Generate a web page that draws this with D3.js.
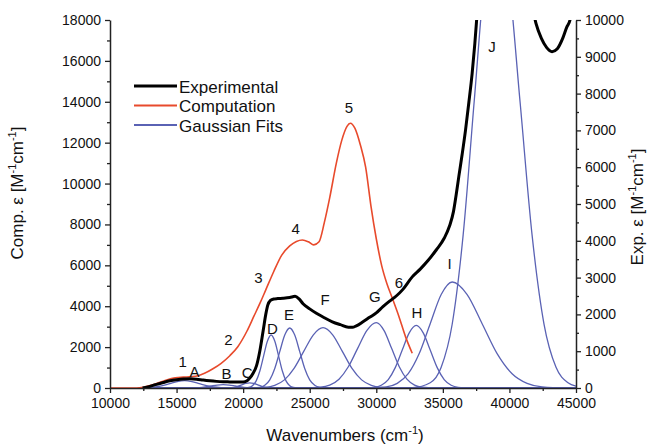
<!DOCTYPE html>
<html><head><meta charset="utf-8">
<script src="https://cdn.jsdelivr.net/npm/d3@7"></script>
<style>
body{margin:0;background:#fff}
text{font-family:"Liberation Sans",Arial,Helvetica,sans-serif;fill:#111}
</style>
</head><body>
<svg id="c" width="651" height="447"></svg>
<script>
// ---------------- data ----------------
const xTicks = [10000,15000,20000,25000,30000,35000,40000,45000];
const xMinorTicks = [12500,17500,22500,27500,32500,37500,42500];
const leftTicks = [0,2000,4000,6000,8000,10000,12000,14000,16000,18000];
const leftMinorTicks = [1000,3000,5000,7000,9000,11000,13000,15000,17000];
const rightTicks = [0,1000,2000,3000,4000,5000,6000,7000,8000,9000,10000];
const rightMinorTicks = [500,1500,2500,3500,4500,5500,6500,7500,8500,9500];

// Experimental spectrum (right axis); null = off the top of the chart
const expWn = [12450,13000,13500,14000,14500,15000,15500,16000,16500,17000,17500,18000,18500,19000,19500,20000,20300,20500,20750,21000,21250,21500,21700,21850,22050,22300,22600,23000,23500,23900,24200,24500,25000,25500,26000,26700,27300,27900,28200,28500,29000,29500,30000,30500,31000,31500,32000,32700,33300,33900,34500,35100,35500,35800,36000,36200,36450,36700,36950,37200,37400,37600,39500,41750,42000,42400,42800,43200,43600,44000,44300,44550,44700];
const expVal = [0,45,100,150,195,225,245,250,240,215,195,180,170,165,160,165,200,270,400,600,1000,1550,2000,2250,2380,2420,2430,2440,2460,2490,2420,2290,2150,2030,1930,1800,1720,1650,1650,1690,1800,1920,2040,2210,2360,2500,2680,3020,3230,3470,3750,4070,4400,4800,5250,5750,6350,7000,7750,8550,9350,10300,null,10300,9900,9500,9250,9140,9220,9500,9800,10000,10400];

// Computed spectrum (left axis)
const compWn = [10000,11000,12000,12500,13000,13500,14000,14600,15500,16100,16600,17100,17700,18350,19000,19600,20300,20800,21300,21700,22300,22900,23500,24000,24450,24900,25300,25700,26100,26500,27000,27400,27800,28050,28400,28800,29200,29600,30000,30400,30800,31200,31700,32200,32700];
const compVal = [0,0,0,40,120,220,330,460,530,555,600,720,930,1210,1580,2020,2800,3500,4200,4800,5700,6500,6950,7170,7240,7150,7000,7150,8100,9300,11000,12100,12800,12950,12700,11900,10800,8900,7300,6000,5100,4400,3500,2500,1700];

const gaussNames = ["A","B","C","D","E","F","G","H","I","J"];
const gaussWn = [
  [12500,13400,13950,14500,15050,15600,16150,16700,17250,17800,18350,18900,45000],
  [12500,15800,16700,17150,17600,18050,18500,18950,19400,19850,20300,21200,45000],
  [12500,18700,19300,19600,19900,20200,20500,20800,21100,21400,21700,22300,45000],
  [12500,19970,20420,20700,20980,21260,21540,21820,22100,22380,22660,22940,23220,23500,23780,24230,45000],
  [12500,20650,21250,21625,22000,22375,22750,23125,23500,23875,24250,24625,25000,25375,25750,26350,45000],
  [12500,20490,21650,22375,23100,23825,24550,25275,26000,26725,27450,28175,28900,29625,30350,31510,45000],
  [12500,24680,25800,26500,27200,27900,28600,29300,30000,30575,31150,31725,32300,32875,33450,34370,45000],
  [12500,29010,29850,30375,30900,31425,31950,32475,33000,33525,34050,34575,35100,35625,36150,36990,45000],
  [12500,29430,30750,31575,32400,33225,34050,34875,35700,36825,37950,39075,40200,41325,42450,44250,45000],
  [12500,31575,32730,34050,34875,35700,36525,37350,38175,39000,39900,40800,41700,42600,43500,44400,45000]
];
const gaussVal = [
  [0,27,65,121,176,200,176,121,65,27,9,2,0],
  [0,1,12,29,55,79,90,79,55,29,12,1,0],
  [0,1,19,45,85,123,140,123,85,45,19,1,0],
  [0,1,16,63,194,468,874,1270,1440,1270,874,468,194,63,16,1,0],
  [0,1,18,72,220,530,989,1438,1630,1438,989,530,220,72,18,1,0],
  [0,1,18,72,221,533,995,1446,1640,1446,995,533,221,72,18,1,0],
  [0,1,20,78,240,577,1077,1566,1775,1566,1077,577,240,78,20,1,0],
  [0,1,19,75,230,553,1032,1499,1700,1499,1032,553,230,75,19,1,0],
  [0,2,32,127,389,936,1748,2540,2880,2540,1748,936,389,127,32,2,0],
  [0,1,10,142,563,1732,4160,7770,11290,12800,11290,7770,4160,1732,563,142,50]
];

// Peak annotations (position in wavenumber / right-axis units)
const annText = ["1","A","B","C","2","3","4","5","6","D","E","F","G","H","I","J"];
const annWn  = [15450,16350,18750,20300,18900,21150,23950,27950,31700,22200,23450,26150,29900,33050,35500,38700];
const annVal = [720,460,400,430,1330,3000,4330,7620,2880,1630,1990,2400,2480,2040,3380,9280];

const legendNames = ["Experimental","Computation","Gaussian Fits"];
const colors = {exp:"#000000", comp:"#e84a2c", gauss:"#5a62b4"};

// ---------------- chart ----------------
const svg = d3.select("#c");
const X0=110, X1=576, Y0=388, Y1=20;
const x = d3.scaleLinear().domain([10000,45000]).range([X0,X1]);
const yL = d3.scaleLinear().domain([0,18000]).range([Y0,Y1]);
const yR = d3.scaleLinear().domain([0,10000]).range([Y0,Y1]);

svg.append("defs").append("clipPath").attr("id","clip")
  .append("rect").attr("x",X0).attr("y",Y1).attr("width",X1-X0).attr("height",Y0-Y1+4);

const plot = svg.append("g").attr("clip-path","url(#clip)");

gaussWn.forEach((wns,i)=>{
  const pts = wns.map((w,j)=>[w,gaussVal[i][j]]);
  plot.append("path")
    .attr("d", d3.line().x(d=>x(d[0])).y(d=>yR(d[1])).curve(d3.curveMonotoneX)(pts))
    .attr("fill","none").attr("stroke",colors.gauss).attr("stroke-width",1.3);
});

const compPts = compWn.map((w,i)=>[w,compVal[i]]);
plot.append("path")
  .attr("d", d3.line().x(d=>x(d[0])).y(d=>yL(d[1])).curve(d3.curveMonotoneX)(compPts))
  .attr("fill","none").attr("stroke",colors.comp).attr("stroke-width",1.6);

const expPts = expWn.map((w,i)=>[w,expVal[i]]);
plot.append("path")
  .attr("d", d3.line().defined(d=>d[1]!==null).x(d=>x(d[0])).y(d=>yR(d[1])).curve(d3.curveMonotoneX)(expPts))
  .attr("fill","none").attr("stroke",colors.exp).attr("stroke-width",3).attr("stroke-linejoin","round");

// axes
function styleAxis(g){
  g.selectAll("path.domain").attr("stroke","#222").attr("stroke-width",1.5);
  g.selectAll(".tick line").attr("stroke","#222").attr("stroke-width",1.3);
  g.selectAll("text").style("font-size","14px").attr("fill","#111");
}
const gx = svg.append("g").attr("transform",`translate(0,${Y0})`)
  .call(d3.axisBottom(x).tickValues(xTicks).tickFormat(d3.format("d")).tickSize(5).tickSizeOuter(0).tickPadding(5));
styleAxis(gx);
const gxm = svg.append("g").attr("transform",`translate(0,${Y0})`)
  .call(d3.axisBottom(x).tickValues(xMinorTicks).tickFormat("").tickSize(3).tickSizeOuter(0));
styleAxis(gxm); gxm.select("path.domain").remove();

const gl = svg.append("g").attr("transform",`translate(${X0},0)`)
  .call(d3.axisLeft(yL).tickValues(leftTicks).tickFormat(d3.format("d")).tickSize(5).tickSizeOuter(0).tickPadding(4));
styleAxis(gl);
const glm = svg.append("g").attr("transform",`translate(${X0},0)`)
  .call(d3.axisLeft(yL).tickValues(leftMinorTicks).tickFormat("").tickSize(3).tickSizeOuter(0));
styleAxis(glm); glm.select("path.domain").remove();

const gr = svg.append("g").attr("transform",`translate(${X1},0)`)
  .call(d3.axisRight(yR).tickValues(rightTicks).tickFormat(d3.format("d")).tickSize(5).tickSizeOuter(0).tickPadding(4));
styleAxis(gr);
const grm = svg.append("g").attr("transform",`translate(${X1},0)`)
  .call(d3.axisRight(yR).tickValues(rightMinorTicks).tickFormat("").tickSize(3).tickSizeOuter(0));
styleAxis(grm); grm.select("path.domain").remove();

// axis titles
function supTitle(t, parts){
  parts.forEach(p=>{
    const s = t.append("tspan").text(p[0]);
    if(p[1]==="sup") s.attr("dy",-7).style("font-size","11px");
    if(p[1]==="back") s.attr("dy",7);
  });
}
const tb = svg.append("text").attr("x",(X0+X1)/2+2).attr("y",441).attr("text-anchor","middle").style("font-size","17px");
supTitle(tb,[["Wavenumbers (cm"],["-1","sup"],[")","back"]]);

const tl = svg.append("text").attr("transform",`translate(23,193) rotate(-90)`).attr("text-anchor","middle").style("font-size","17px");
supTitle(tl,[["Comp. ε [M"],["-1","sup"],["cm","back"],["-1","sup"],["]","back"]]);

const tr = svg.append("text").attr("transform",`translate(643,207) rotate(-90)`).attr("text-anchor","middle").style("font-size","17px");
supTitle(tr,[["Exp. ε [M"],["-1","sup"],["cm","back"],["-1","sup"],["]","back"]]);

// annotations
svg.append("g").selectAll("text").data(annText).join("text")
  .attr("x",(d,i)=>x(annWn[i])).attr("y",(d,i)=>yR(annVal[i]))
  .attr("text-anchor","middle").attr("dominant-baseline","central")
  .style("font-size","15px").text(d=>d);

// legend
const legColors = [colors.exp, colors.comp, colors.gauss];
const legW = [3,2,2];
const leg = svg.append("g");
legendNames.forEach((n,i)=>{
  const yy = 86 + i*19.5;
  leg.append("line").attr("x1",134).attr("x2",177).attr("y1",yy).attr("y2",yy)
    .attr("stroke",legColors[i]).attr("stroke-width",legW[i]);
  leg.append("text").attr("x",179).attr("y",yy+1).attr("dominant-baseline","central")
    .style("font-size","17px").text(n);
});
</script>
</body></html>
